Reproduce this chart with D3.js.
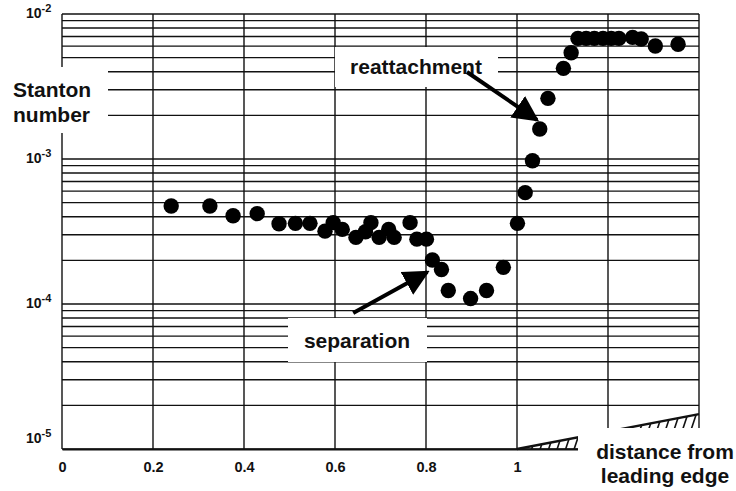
<!DOCTYPE html>
<html>
<head>
<meta charset="utf-8">
<script src="https://cdn.jsdelivr.net/npm/d3@7"></script>
<style>
  html, body { margin: 0; padding: 0; background: #fff; }
  svg { display: block; font-family: "Liberation Sans", Arial, Helvetica, sans-serif; }
</style>
</head>
<body>
<svg id="chart" width="736" height="491"></svg>
<script>
// ---- data ----
const distance = [0.240, 0.325, 0.376, 0.429, 0.477, 0.513, 0.545, 0.578, 0.596, 0.616,
                  0.646, 0.667, 0.679, 0.697, 0.718, 0.730, 0.765, 0.780, 0.801, 0.814,
                  0.834, 0.849, 0.898, 0.933, 0.970, 1.001, 1.018, 1.034, 1.050, 1.068,
                  1.102, 1.119, 1.134, 1.152, 1.170, 1.189, 1.207, 1.224, 1.254, 1.273,
                  1.304, 1.354];
const stanton = [4.74e-4, 4.74e-4, 4.06e-4, 4.20e-4, 3.58e-4, 3.60e-4, 3.60e-4, 3.18e-4, 3.64e-4, 3.27e-4,
                 2.88e-4, 3.15e-4, 3.64e-4, 2.88e-4, 3.27e-4, 2.88e-4, 3.64e-4, 2.80e-4, 2.80e-4, 2.01e-4,
                 1.73e-4, 1.24e-4, 1.09e-4, 1.24e-4, 1.79e-4, 3.60e-4, 5.86e-4, 9.73e-4, 1.61e-3, 2.62e-3,
                 4.22e-3, 5.41e-3, 6.79e-3, 6.79e-3, 6.79e-3, 6.79e-3, 6.79e-3, 6.79e-3, 6.90e-3, 6.73e-3,
                 6.02e-3, 6.18e-3];
const xTickValues = [0, 0.2, 0.4, 0.6, 0.8, 1];
const xTickLabels = ["0", "0.2", "0.4", "0.6", "0.8", "1"];
const xGridValues = [0, 0.2, 0.4, 0.6, 0.8, 1.0, 1.2, 1.4];
const yTickValues = [1e-2, 1e-3, 1e-4, 1e-5];
const yTickExponents = ["-2", "-3", "-4", "-5"];
const yLabelTitle = ["Stanton", "number"];
const xLabelTitle = ["distance from", "leading edge"];
// annotations (data space): [x0, y0, x1(tip), y1(tip)]
const annotations = [
  { text: "reattachment", arrow: [0.890, 3.98e-3, 1.044, 1.86e-3] },
  { text: "separation",   arrow: [0.640, 8.67e-5, 0.803, 1.66e-4] }
];
// leading edge wall (ramp) in data space
const wallX = [1.0, 1.4];
const wallY = [1e-5, 1.74e-5];

// ---- layout ----
const svg = d3.select("#chart");
const x = d3.scaleLinear().domain([0, 1.4]).range([62, 699]);
const y = d3.scaleLog().domain([1e-5, 1e-2]).range([449, 14]);

// grid: horizontal lines at each 1..9 x 10^k
const hGrid = [];
for (let e = -5; e < -2; e++) for (let m = 1; m < 10; m++) hGrid.push(m * Math.pow(10, e));
hGrid.push(1e-2);

const grid = svg.append("g").attr("stroke", "#111").attr("stroke-width", 1.4);
grid.selectAll("line.h").data(hGrid).join("line")
  .attr("x1", x(0)).attr("x2", x(1.4))
  .attr("y1", d => y(d)).attr("y2", d => y(d));
grid.selectAll("line.v").data(xGridValues).join("line")
  .attr("x1", d => x(d)).attr("x2", d => x(d))
  .attr("y1", y(1e-5)).attr("y2", y(1e-2));

// bottom axis with d3
const xAxis = d3.axisBottom(x).tickValues(xTickValues)
  .tickFormat((d, i) => xTickLabels[i]).tickSize(0).tickPadding(13);
const gx = svg.append("g").attr("transform", `translate(0,${y(1e-5)})`).call(xAxis);
gx.select(".domain").attr("stroke", "#111").attr("stroke-width", 1.8);
gx.selectAll("text")
  .style("font-size", "14.5px").style("font-weight", "bold").style("fill", "#111")
  .style("font-family", "'Liberation Sans', Arial, sans-serif");

// left axis labels 10^k
const gy = svg.append("g");
gy.selectAll("text").data(yTickValues).join("text")
  .attr("x", 43)
  .attr("y", (d, i) => y(d) + (i === yTickValues.length - 1 ? -6 : 4))
  .attr("text-anchor", "start")
  .style("font-size", "14px").style("font-weight", "bold").style("fill", "#111")
  .style("font-family", "'Liberation Sans', Arial, sans-serif")
  .each(function(d, i) {
    const t = d3.select(this);
    t.attr("x", 26);
    t.append("tspan").text("10");
    t.append("tspan").attr("dy", -6).style("font-size", "11px").text(yTickExponents[i]);
  });

// wall ramp with hatching
const defs = svg.append("defs");
const wallPts = [[x(wallX[0]), y(wallY[0])], [x(wallX[1]), y(wallY[1])], [x(wallX[1]), y(wallY[0])]];
defs.append("clipPath").attr("id", "wallClip").append("path")
  .attr("d", "M" + wallPts.map(p => p.join(",")).join("L") + "Z");
const hatch = svg.append("g").attr("clip-path", "url(#wallClip)");
const hx = d3.range(x(wallX[0]) - 20, x(wallX[1]) + 10, 8.5);
hatch.selectAll("line").data(hx).join("line")
  .attr("x1", d => d).attr("y1", y(wallY[0]) + 2)
  .attr("x2", d => d + 14).attr("y2", y(wallY[0]) - 40)
  .attr("stroke", "#111").attr("stroke-width", 1.6);
svg.append("line")
  .attr("x1", x(wallX[0])).attr("y1", y(wallY[0]))
  .attr("x2", x(wallX[1])).attr("y2", y(wallY[1]))
  .attr("stroke", "#111").attr("stroke-width", 2.4);

// white label boxes
function box(x0, y0, w, h) {
  svg.append("rect").attr("x", x0).attr("y", y0).attr("width", w).attr("height", h).attr("fill", "#fff");
}
function styleTitle(sel) {
  return sel.style("font-size", "21px").style("font-weight", "bold").style("fill", "#111")
    .style("font-family", "'Liberation Sans', Arial, sans-serif");
}
// Stanton number
box(0, 67, 108, 66);
styleTitle(svg.append("g").selectAll("text").data(yLabelTitle).join("text")
  .attr("x", 13).attr("y", (d, i) => 97 + i * 25).text(d => d));
// reattachment
box(335, 47, 163, 40);
styleTitle(svg.append("text").attr("x", 416).attr("y", 74).attr("text-anchor", "middle")
  .text(annotations[0].text));
// separation
box(288, 318, 139, 44);
styleTitle(svg.append("text").attr("x", 357).attr("y", 348).attr("text-anchor", "middle")
  .text(annotations[1].text));
// distance from leading edge
box(578, 428, 158, 63);
styleTitle(svg.append("g").selectAll("text").data(xLabelTitle).join("text")
  .attr("x", 665).attr("y", (d, i) => 459 + i * 24).attr("text-anchor", "middle")
  .text(d => d));

// arrows
defs.append("marker").attr("id", "head").attr("viewBox", "0 0 10 10")
  .attr("refX", 9).attr("refY", 5).attr("markerWidth", 6.5).attr("markerHeight", 6.5)
  .attr("markerUnits", "strokeWidth").attr("orient", "auto")
  .append("path").attr("d", "M0,0 L10,5 L0,10 Z").attr("fill", "#000");
svg.append("g").selectAll("line").data(annotations).join("line")
  .attr("x1", d => x(d.arrow[0])).attr("y1", d => y(d.arrow[1]))
  .attr("x2", d => x(d.arrow[2])).attr("y2", d => y(d.arrow[3]))
  .attr("stroke", "#000").attr("stroke-width", 4)
  .attr("marker-end", "url(#head)");

// data points
svg.append("g").selectAll("circle").data(distance).join("circle")
  .attr("cx", d => x(d)).attr("cy", (d, i) => y(stanton[i]))
  .attr("r", 7.7).attr("fill", "#000");
</script>
</body>
</html>
